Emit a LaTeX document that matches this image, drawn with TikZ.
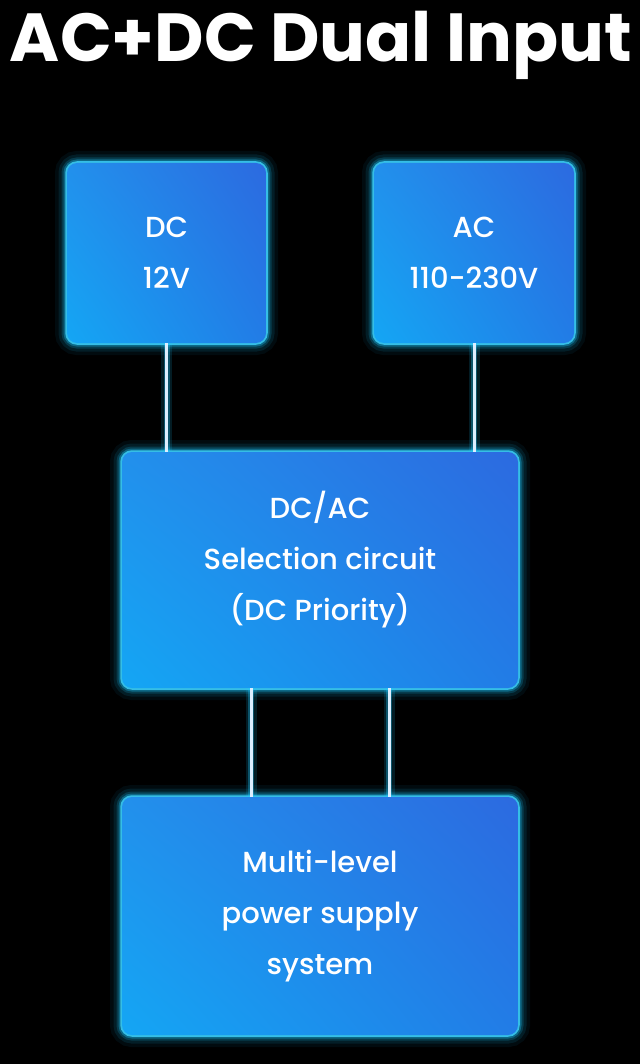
\documentclass[tikz,border=0pt]{standalone}
\usepackage{fontspec}
\usetikzlibrary{shadings}
\setmainfont{Poppins}
\newfontfamily\medfont{Poppins Medium}
\definecolor{glowc}{HTML}{1CC8FF}
\definecolor{edgec}{HTML}{3FD4FF}
\definecolor{ulc}{HTML}{2290EC}
\definecolor{urc}{HTML}{2C6AE0}
\definecolor{llc}{HTML}{14A6F4}
\definecolor{lrc}{HTML}{227CE6}
\definecolor{linec}{HTML}{DCEEFF}
\tikzset{
  glowbox/.style={rectangle, rounded corners=10pt, inner sep=0pt, shade,
    upper left=ulc, upper right=urc, lower left=llc, lower right=lrc,
    preaction={draw=glowc, line width=24pt, opacity=0.06},
    preaction={draw=glowc, line width=17pt, opacity=0.1},
    preaction={draw=glowc, line width=11pt, opacity=0.18},
    preaction={draw=glowc, line width=7pt, opacity=0.32},
    preaction={draw=edgec, line width=3.5pt, opacity=0.8}},
  boxtext/.style={text=white, align=center, font=\medfont\fontsize{29}{51}\selectfont},
  wire/.style={draw=linec, line width=3pt,
    preaction={draw=glowc, line width=11pt, opacity=0.14},
    preaction={draw=glowc, line width=6pt, opacity=0.32}},
  title/.style={text=white, font=\fontsize{70}{80}\selectfont\bfseries}
}
\begin{document}
\begin{tikzpicture}[x=1pt,y=-1pt]
\fill[black] (0,0) rectangle (640,1064);
\useasboundingbox (0,0) rectangle (640,1064);
\node[title, anchor=base, inner sep=0pt] (t) at (321,62) {\resizebox{622pt}{!}{AC+DC Dual Input}};
\node[glowbox, minimum width=199pt, minimum height=180pt] (dc) at (166.5,253) {};
\node[glowbox, minimum width=200pt, minimum height=180pt] (ac) at (474,253) {};
\node[glowbox, minimum width=396pt, minimum height=236pt] (sel) at (320,570) {};
\node[glowbox, minimum width=396pt, minimum height=238pt] (pss) at (320,916) {};
\node[boxtext] (dct) at (dc.center) {DC\\12V};
\node[boxtext] (act) at (ac.center) {AC\\110-230V};
\node[boxtext] (selt) at (320,560) {DC/AC\\Selection circuit\\(DC Priority)};
\node[boxtext] (psst) at (pss.center) {Multi-level\\power supply\\system};
\coordinate (s1) at ([xshift=-69pt]sel.south);
\coordinate (s2) at ([xshift=69pt]sel.south);
\draw[wire] (dc.south) -- (dc.south |- sel.north);
\draw[wire] (ac.south) -- (ac.south |- sel.north);
\draw[wire] (s1) -- (s1 |- pss.north);
\draw[wire] (s2) -- (s2 |- pss.north);
\end{tikzpicture}
\end{document}
